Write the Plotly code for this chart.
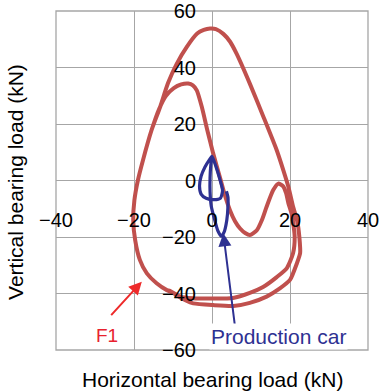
import plotly.graph_objects as go

# F1 bearing load trajectory (kN)
f1_x = [-9.05, -11.6, -14.2, -16.7, -18.5, -19.7, -20.2, -19.9, -19.0, -17.7, -15.5, -13.5,
        -11.8, -9.8, -7.9, -6.1, -4.9, -3.9, -2.6, -1.2, 0.3, 2.1, 3.3, 4.6, 5.9, 7.2, 8.5, 9.7,
        11.5, 12.8, 14.0, 15.7, 17.0, 18.2, 19.0, 19.6, 20.4, 20.9, 21.2, 20.8, 19.2, 16.6, 13.1,
        9.7, 5.4, 0.3, -4.9, -8.2, -10.8,
        -11.6, -14.2, -16.7, -18.5, -19.7, -20.2, -19.9, -19.0, -17.7, -15.5, -13.3,
        -11.3, -9.05, -6.5, -3.8, -2.1, -0.5, 1.0, 2.9, 4.6, 6.3, 9.7, 13.2, 16.6, 18.3, 19.6,
        20.8, 21.9, 22.4, 22.6, 21.8, 20.0, 17.4, 14.0, 9.7, 5.5, 0.3, -4.8, -6.7, -8.7, -9.05]
f1_y = [-40.5, -38.8, -36.4, -32.9, -28.1, -21.1, -14.0, -7.0, 0.1, 7.2, 17.8, 25.5,
        30.0, 32.7, 34.0, 34.3, 33.7, 31.9, 26.0, 17.8, 9.6, 0.8, -5.2, -10.5, -14.4, -17.0, -18.6, -19.3,
        -17.6, -14.0, -9.3, -3.4, -1.1, -2.0, -4.5, -8.1, -11.7, -15.8, -20.0, -25.7, -31.0, -34.2, -37.7,
        -39.8, -41.6, -41.8, -41.7, -41.1, -39.1,
        -38.8, -36.4, -32.9, -28.1, -21.1, -14.0, -7.0, 0.1, 7.2, 17.8, 26.0,
        34.4, 41.3, 47.2, 52.0, 53.3, 53.8, 53.6, 51.9, 49.2, 44.9, 34.3, 22.5, 10.7, 3.6, -2.3,
        -9.3, -14.7, -20.0, -25.7, -29.2, -35.2, -38.2, -41.1, -43.3, -44.4, -44.1, -43.5, -42.5, -40.9, -40.5]

# Production car bearing load trajectory (kN)
car_x = [3.7, 4.1, 4.1, 3.8, 3.1, 2.4, 1.5, 0.6, -0.2, -0.5, -0.5, -0.3, 0.0, 1.0, 2.0, 2.7, 2.2,
         0.5, -1.5, -2.8, -3.2, -2.8, -1.8, -0.6, 0.0]
car_y = [-3.8, -6.0, -9.0, -14.0, -18.3, -19.7, -17.8, -13.5, -9.0, -4.0, 1.0, 5.5, 8.6, 5.0, 0.5,
         -3.5, -6.2, -6.8, -6.3, -4.8, -2.0, 1.5, 4.8, 7.5, 8.6]

x_ticks = [-40, -20, 0, 20, 40]
y_ticks = [-60, -40, -20, 0, 20, 40, 60]

x_title = "Horizontal bearing load (kN)"
y_title = "Vertical bearing load (kN)"

f1_label = "F1"
f1_arrow_head = (-18.0, -35.8)
f1_arrow_tail = (-26.2, -48.2)
f1_label_pos = (-27.0, -54.7)

car_label = "Production car"
car_arrow_head = (2.9, -18.7)
car_arrow_tail = (5.9, -51.7)
car_label_pos = (17.0, -55.3)

FONT = "Liberation Sans, Arial, sans-serif"
GRID = "#a6a6a6"

fig = go.Figure()
fig.add_trace(go.Scatter(x=f1_x, y=f1_y, mode="lines",
                         line=dict(color="#c0504d", width=4, shape="spline", smoothing=0.6),
                         showlegend=False, hoverinfo="skip"))
fig.add_trace(go.Scatter(x=car_x, y=car_y, mode="lines",
                         line=dict(color="#2e3192", width=3.2, shape="spline", smoothing=0.6),
                         showlegend=False, hoverinfo="skip"))

fig.update_layout(
    width=380, height=392,
    margin=dict(l=56, r=12, t=11, b=42),
    paper_bgcolor="white", plot_bgcolor="white",
    font=dict(family=FONT, color="black"),
    showlegend=False,
    xaxis=dict(range=[-40, 40], tickvals=x_ticks, showgrid=True, gridcolor=GRID, gridwidth=1.3,
               zeroline=False, showline=False, anchor="free", position=0.425, ticks="",
               automargin=False,
               tickfont=dict(size=20, family=FONT, color="black"), fixedrange=True),
    yaxis=dict(range=[-60, 60], tickvals=y_ticks, showgrid=True, gridcolor=GRID, gridwidth=1.3,
               zeroline=False, showline=False, anchor="free", position=0.5, ticks="",
               ticklabelstandoff=16, automargin=False,
               tickfont=dict(size=20, family=FONT, color="black"), fixedrange=True),
    shapes=[dict(type="rect", xref="paper", yref="paper", x0=0, y0=0, x1=1, y1=1,
                 line=dict(color=GRID, width=1.3), layer="below")],
)

fig.add_annotation(text=x_title, xref="paper", yref="paper", x=0.5, y=-0.088,
                   showarrow=False, font=dict(size=21, family=FONT, color="black"),
                   xanchor="center", yanchor="middle")
fig.add_annotation(text=y_title, xref="paper", yref="paper", x=-0.128, y=0.496,
                   showarrow=False, textangle=-90, font=dict(size=21, family=FONT, color="black"),
                   xanchor="center", yanchor="middle")

# arrows
fig.add_annotation(x=f1_arrow_head[0], y=f1_arrow_head[1], ax=f1_arrow_tail[0], ay=f1_arrow_tail[1],
                   xref="x", yref="y", axref="x", ayref="y", text="", showarrow=True,
                   arrowhead=2, arrowsize=1.3, arrowwidth=2, arrowcolor="#ee2a2a")
fig.add_annotation(x=car_arrow_head[0], y=car_arrow_head[1], ax=car_arrow_tail[0], ay=car_arrow_tail[1],
                   xref="x", yref="y", axref="x", ayref="y", text="", showarrow=True,
                   arrowhead=2, arrowsize=1.3, arrowwidth=2, arrowcolor="#2e3192")
fig.add_annotation(x=f1_label_pos[0], y=f1_label_pos[1], xref="x", yref="y", text=f1_label,
                   showarrow=False, font=dict(size=19, family=FONT, color="#e8212e"),
                   bgcolor="white")
fig.add_annotation(x=car_label_pos[0], y=car_label_pos[1], xref="x", yref="y", text=car_label,
                   showarrow=False, font=dict(size=21, family=FONT, color="#2e3192"),
                   bgcolor="white")

fig.write_html("out.html", config={"displayModeBar": False},
               post_script="document.body.style.margin='0px';")
